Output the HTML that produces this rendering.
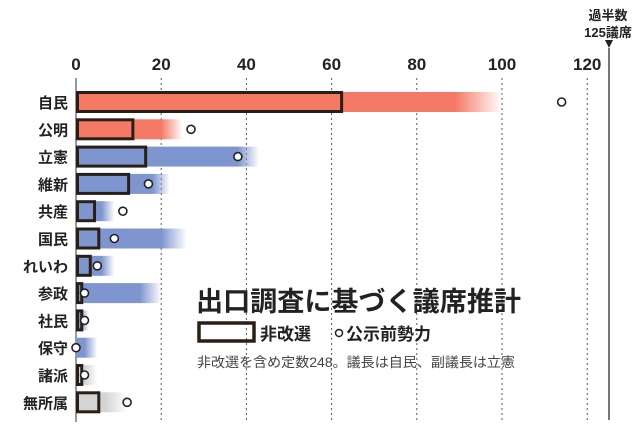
<!DOCTYPE html>
<html><head><meta charset="utf-8"><style>
body{margin:0;background:#fff;}
svg text{font-family:"Liberation Sans","Noto Sans CJK JP",sans-serif;}
</style></head><body>
<svg id="chart" width="640" height="426" viewBox="0 0 640 426" xmlns="http://www.w3.org/2000/svg"></svg>
<script>
const parties=["自民","公明","立憲","維新","共産","国民","れいわ","参政","社民","保守","諸派","無所属"];
const nonUp=[62,13,16,12,4,5,3,1,1,0,1,5];
const estLow=[89,20,38,18,6,20,6,15,1,2,2,7];
const estHigh=[100,25,43,22,9,26,9,20,3,5,5,12];
const before=[114,27,38,17,11,9,5,2,2,0,2,12];
const groups=["r","r","b","b","b","b","b","b","b","b","g","g"];
const ticks=[0,20,40,60,80,100,120];
const NS="http://www.w3.org/2000/svg";
const svg=document.getElementById('chart');
const X0=76,SC=4.26;
const x=v=>X0+v*SC;
const y=i=>102+i*27.3;
const col={r:"#f47a66",b:"#7f95d0",g:"#d4d4d4"};
function mk(t,a,p){const e=document.createElementNS(NS,t);for(const k in a)e.setAttribute(k,a[k]);(p||svg).appendChild(e);return e;}
const defs=mk('defs',{});
parties.forEach((p,i)=>{
  const k=groups[i];
  const g=mk('linearGradient',{id:'g'+i,x1:x(0),x2:x(estHigh[i]),y1:0,y2:0,gradientUnits:'userSpaceOnUse'},defs);
  const f=(x(estLow[i])-x(0))/(x(estHigh[i])-x(0));
  mk('stop',{offset:f,'stop-color':col[k]},g);
  mk('stop',{offset:1,'stop-color':col[k],'stop-opacity':0},g);
});
ticks.forEach(t=>{
  const l=mk('line',{x1:x(t),x2:x(t),y1:78,y2:422,stroke:t===0?'#333':'#555','stroke-width':1,'stroke-dasharray':t===0?'':'2,3'});
  
  
  const tx=mk('text',{x:x(t),y:70,'text-anchor':'middle','font-size':17,'font-weight':'bold',fill:'#222'});
  tx.textContent=t;
  
  
});
const maj=mk('line',{x1:609,x2:609,y1:48,y2:420,stroke:'#777','stroke-width':2});


mk('polygon',{points:'605,40 613,40 609,48',fill:'#222'});
const m1=mk('text',{x:608,y:20,'text-anchor':'middle','font-size':13,'font-weight':'bold',fill:'#222'});m1.textContent='過半数';


const m2=mk('text',{x:608,y:37,'text-anchor':'middle','font-size':13,'font-weight':'bold',fill:'#222'});m2.textContent='125議席';


parties.forEach((p,i)=>{
  const cy=y(i);
  const lb=mk('text',{x:68,y:cy+6,'text-anchor':'end','font-size':15,'font-weight':'bold',fill:'#222'});lb.textContent=p;
  
  
  const r=mk('rect',{x:x(0),y:cy-10,width:x(estHigh[i])-x(0),height:20,fill:'url(#g'+i+')'});
  
  
  const w=Math.max(nonUp[i]*SC,2);
  if(nonUp[i]>0){const b=mk('rect',{x:x(0)+1.5,y:cy-9.5,width:w,height:19,fill:'none',stroke:'#2a1f16','stroke-width':3});
  
  }
  const c=mk('circle',{cx:x(before[i]),cy:cy,r:4,fill:'#fff',stroke:'#222','stroke-width':1.6});
  
  
});
const t1=mk('text',{x:196,y:311,'font-size':27,'font-weight':'bold',fill:'#222',textLength:325,lengthAdjust:'spacingAndGlyphs'});t1.textContent='出口調査に基づく議席推計';


const lr=mk('rect',{x:199,y:323,width:55,height:18,fill:'none',stroke:'#2a1f16','stroke-width':3.5});


const l1=mk('text',{x:260,y:340,'font-size':17,'font-weight':'bold',fill:'#222'});l1.textContent='非改選';


const lc=mk('circle',{cx:339,cy:333,r:3.5,fill:'#fff',stroke:'#222','stroke-width':1.5});


const l2=mk('text',{x:346,y:340,'font-size':17,'font-weight':'bold',fill:'#222'});l2.textContent='公示前勢力';


const nt=mk('text',{x:197,y:367,'font-size':13.5,fill:'#444',textLength:318,lengthAdjust:'spacingAndGlyphs'});nt.textContent='非改選を含め定数248。議長は自民、副議長は立憲';


</script>
</body></html>
